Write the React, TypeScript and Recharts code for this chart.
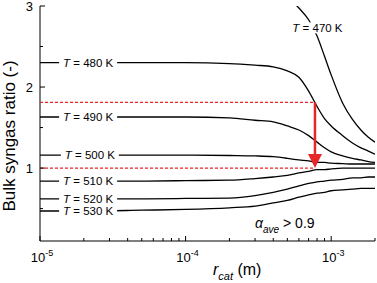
import React from "react";
import {
  LineChart,
  Line,
  XAxis,
  YAxis,
  ReferenceLine,
  ReferenceDot,
} from "recharts";

const FONT = "'Liberation Sans', Arial, Helvetica, sans-serif";
const RED = "#e8262a";

// catalyst radius (m)
const R_CAT = [
  1e-5, 2e-5, 5e-5, 1e-4, 2e-4, 3e-4, 4e-4, 5e-4, 6e-4, 7e-4, 8e-4, 9e-4,
  1e-3, 1.2e-3, 1.4e-3, 1.6e-3, 1.8e-3, 2e-3,
];

// bulk syngas ratio per temperature
const T470 = [
  null, null, null, null, null, null, 3.22, 3.11, 2.975, 2.83, 2.63, 2.38,
  2.15, 1.8, 1.6, 1.47, 1.38, 1.32,
];
const T480 = [
  2.3, 2.3, 2.3, 2.3, 2.29, 2.27, 2.25, 2.2, 2.12, 1.95, 1.76, 1.61, 1.52,
  1.4, 1.31, 1.25, 1.21, 1.17,
];
const T490 = [
  1.63, 1.63, 1.63, 1.63, 1.62, 1.59, 1.57, 1.52, 1.47, 1.4, 1.32, 1.25, 1.2,
  1.15, 1.12, 1.1, 1.08, 1.07,
];
const T500 = [
  1.16, 1.16, 1.16, 1.16, 1.155, 1.15, 1.14, 1.12, 1.1, 1.09, 1.07, 1.07,
  1.06, 1.055, 1.05, 1.05, 1.05, 1.05,
];
const T510 = [
  0.84, 0.84, 0.84, 0.845, 0.85, 0.87, 0.89, 0.91, 0.94, 0.96, 0.98, 0.98,
  0.99, 1.0, 1.0, 1.0, 1.0, 1.0,
];
const T520 = [
  0.62, 0.62, 0.62, 0.625, 0.63, 0.66, 0.7, 0.74, 0.78, 0.81, 0.83, 0.84,
  0.85, 0.86, 0.88, 0.88, 0.89, 0.89,
];
const T530 = [
  0.47, 0.47, 0.48, 0.49, 0.51, 0.53, 0.57, 0.6, 0.64, 0.67, 0.69, 0.7, 0.72,
  0.73, 0.74, 0.75, 0.75, 0.75,
];

const SERIES = [
  { key: "t470", values: T470 },
  { key: "t480", values: T480 },
  { key: "t490", values: T490 },
  { key: "t500", values: T500 },
  { key: "t510", values: T510 },
  { key: "t520", values: T520 },
  { key: "t530", values: T530 },
];

// curve labels: temperature, x position, y position
const LABEL_T = [470, 480, 490, 500, 510, 520, 530];
const LABEL_X = [8.05e-4, 2.14e-5, 2.14e-5, 2.2e-5, 2.14e-5, 2.14e-5, 2.14e-5];
const LABEL_Y = [2.73, 2.3, 1.63, 1.16, 0.84, 0.62, 0.47];

// red guide: ratio drop at a given radius
const GUIDE_X = 7.74e-4;
const GUIDE_HIGH = 1.81;
const GUIDE_LOW = 1.0;
const GUIDE_SHAFT_END = 1.15;

const X_DOMAIN = [1e-5, 2e-3];
const Y_DOMAIN = [0.1, 3];
const X_TICKS = [
  1e-5, 2e-5, 3e-5, 4e-5, 5e-5, 6e-5, 7e-5, 8e-5, 9e-5,
  1e-4, 2e-4, 3e-4, 4e-4, 5e-4, 6e-4, 7e-4, 8e-4, 9e-4,
  1e-3, 2e-3,
];
const Y_TICKS = [0.5, 1, 1.5, 2, 2.5, 3];

const ALPHA_X = 3.0e-4;
const ALPHA_Y = 0.26;

const rows = R_CAT.map((x, i) => {
  const row: any = { x };
  SERIES.forEach((s) => {
    row[s.key] = s.values[i];
  });
  return row;
});

const isDecade = (v: number) =>
  Math.abs(Math.log10(v) - Math.round(Math.log10(v))) < 1e-9;

const BottomTick = (props: any) => {
  const { x, y, payload } = props;
  const major = isDecade(payload.value);
  const exp = Math.round(Math.log10(payload.value));
  return (
    <g>
      <line x1={x} y1={y} x2={x} y2={y - (major ? 5 : 3)} stroke="#000" />
      {major && (
        <text
          x={x + 2}
          y={y + 21}
          textAnchor="middle"
          fontSize={13}
          fontFamily={FONT}
          fill="#000"
        >
          10
          <tspan dy={-6} fontSize={9}>
            {`${exp}`}
          </tspan>
        </text>
      )}
    </g>
  );
};

const TopTick = (props: any) => {
  const { x, y, payload } = props;
  const major = isDecade(payload.value);
  return <line x1={x} y1={y} x2={x} y2={y + (major ? 5 : 3)} stroke="#000" />;
};

const LeftTick = (props: any) => {
  const { x, y, payload } = props;
  const major = Number.isInteger(payload.value);
  return (
    <g>
      <line x1={x} y1={y} x2={x + (major ? 5 : 3)} y2={y} stroke="#000" />
      {major && (
        <text
          x={x - 7}
          y={y + 4.5}
          textAnchor="end"
          fontSize={13}
          fontFamily={FONT}
          fill="#000"
        >
          {payload.value}
        </text>
      )}
    </g>
  );
};

const RightTick = (props: any) => {
  const { x, y, payload } = props;
  const major = Number.isInteger(payload.value);
  return <line x1={x} y1={y} x2={x - (major ? 5 : 3)} y2={y} stroke="#000" />;
};

const TempTag = (props: any) => {
  const { cx, cy, t, w } = props;
  return (
    <g>
      <rect x={cx - w / 2} y={cy - 5.5} width={w} height={11} fill="#fff" />
      <text
        x={cx}
        y={cy + 4}
        textAnchor="middle"
        fontSize={11.5}
        fontFamily={FONT}
        fill="#000"
      >
        <tspan fontStyle="italic">T</tspan> = {t} K
      </text>
    </g>
  );
};

const Arrowhead = (props: any) => {
  const { cx, cy } = props;
  return (
    <polygon
      points={`${cx - 7},${cy - 14} ${cx + 7},${cy - 14} ${cx},${cy}`}
      fill={RED}
    />
  );
};

const AlphaNote = (props: any) => {
  const { cx, cy } = props;
  return (
    <text x={cx} y={cy} fontSize={14} fontFamily={FONT} fill="#000">
      <tspan fontStyle="italic">α</tspan>
      <tspan dy={5} fontSize={10} fontStyle="italic">
        ave
      </tspan>
      <tspan dy={-5}> &gt; 0.9</tspan>
    </text>
  );
};

export default function App() {
  return (
    <div>
      <style>{`body{margin:0}`}</style>
      <LineChart
        width={377}
        height={283}
        data={rows}
        margin={{ top: 6, right: 2, bottom: 0, left: 0 }}
      >
        <XAxis
          dataKey="x"
          type="number"
          scale="log"
          domain={X_DOMAIN}
          allowDataOverflow
          ticks={X_TICKS}
          interval={0}
          height={42}
          tickSize={0}
          tickMargin={0}
          tickLine={false}
          axisLine={{ stroke: "#000" }}
          tick={<BottomTick />}
          label={{
            content: (p: any) => {
              const vb = p.viewBox;
              return (
                <text
                  x={vb.x + 173}
                  y={vb.y + 34}
                  fontSize={16}
                  fontFamily={FONT}
                  fill="#000"
                >
                  <tspan fontStyle="italic">r</tspan>
                  <tspan dy={5} fontSize={11} fontStyle="italic">
                    cat
                  </tspan>
                  <tspan dy={-5}> (m)</tspan>
                </text>
              );
            },
          }}
        />
        <XAxis
          xAxisId="top"
          orientation="top"
          dataKey="x"
          type="number"
          scale="log"
          domain={X_DOMAIN}
          allowDataOverflow
          ticks={X_TICKS}
          interval={0}
          height={0}
          tickSize={0}
          tickMargin={0}
          tickLine={false}
          axisLine={{ stroke: "#000" }}
          tick={<TopTick />}
        />
        <YAxis
          type="number"
          domain={Y_DOMAIN}
          allowDataOverflow
          ticks={Y_TICKS}
          interval={0}
          width={40}
          tickSize={0}
          tickMargin={0}
          tickLine={false}
          axisLine={{ stroke: "#000" }}
          tick={<LeftTick />}
          label={{
            content: (p: any) => {
              const vb = p.viewBox;
              const cx = vb.x + 14.5;
              const cy = vb.y + 130;
              return (
                <text
                  x={cx}
                  y={cy}
                  transform={`rotate(-90, ${cx}, ${cy})`}
                  textAnchor="middle"
                  fontSize={17}
                  fontFamily={FONT}
                  fill="#000"
                >
                  Bulk syngas ratio (-)
                </text>
              );
            },
          }}
        />
        <YAxis
          yAxisId="right"
          orientation="right"
          type="number"
          domain={Y_DOMAIN}
          allowDataOverflow
          ticks={Y_TICKS}
          interval={0}
          width={0}
          tickSize={0}
          tickMargin={0}
          tickLine={false}
          axisLine={{ stroke: "#000" }}
          tick={<RightTick />}
        />

        {SERIES.map((s) => (
          <Line
            key={s.key}
            dataKey={s.key}
            type="monotone"
            stroke="#000"
            strokeWidth={1.3}
            dot={false}
            activeDot={false}
            connectNulls={false}
            isAnimationActive={false}
          />
        ))}

        <ReferenceLine
          segment={[
            { x: X_DOMAIN[0], y: GUIDE_HIGH },
            { x: GUIDE_X, y: GUIDE_HIGH },
          ]}
          stroke={RED}
          strokeWidth={1.3}
          strokeDasharray="3 2"
          zIndex={1500}
        />
        <ReferenceLine
          segment={[
            { x: X_DOMAIN[0], y: GUIDE_LOW },
            { x: GUIDE_X, y: GUIDE_LOW },
          ]}
          stroke={RED}
          strokeWidth={1.3}
          strokeDasharray="3 2"
          zIndex={1500}
        />
        <ReferenceLine
          segment={[
            { x: GUIDE_X, y: GUIDE_HIGH },
            { x: GUIDE_X, y: GUIDE_SHAFT_END },
          ]}
          stroke={RED}
          strokeWidth={2.5}
          zIndex={1500}
        />
        <ReferenceDot
          x={GUIDE_X}
          y={GUIDE_LOW}
          r={1}
          shape={(p: any) => <Arrowhead cx={p.cx} cy={p.cy} />}
          zIndex={1600}
        />

        {LABEL_T.map((t, i) => (
          <ReferenceDot
            key={`tag-${t}`}
            x={LABEL_X[i]}
            y={LABEL_Y[i]}
            r={1}
            shape={(p: any) => (
              <TempTag cx={p.cx} cy={p.cy} t={t} w={t === 470 ? 54 : 58} />
            )}
            zIndex={1600}
          />
        ))}

        <ReferenceDot
          x={ALPHA_X}
          y={ALPHA_Y}
          r={1}
          shape={(p: any) => <AlphaNote cx={p.cx} cy={p.cy} />}
          zIndex={1600}
        />
      </LineChart>
    </div>
  );
}
